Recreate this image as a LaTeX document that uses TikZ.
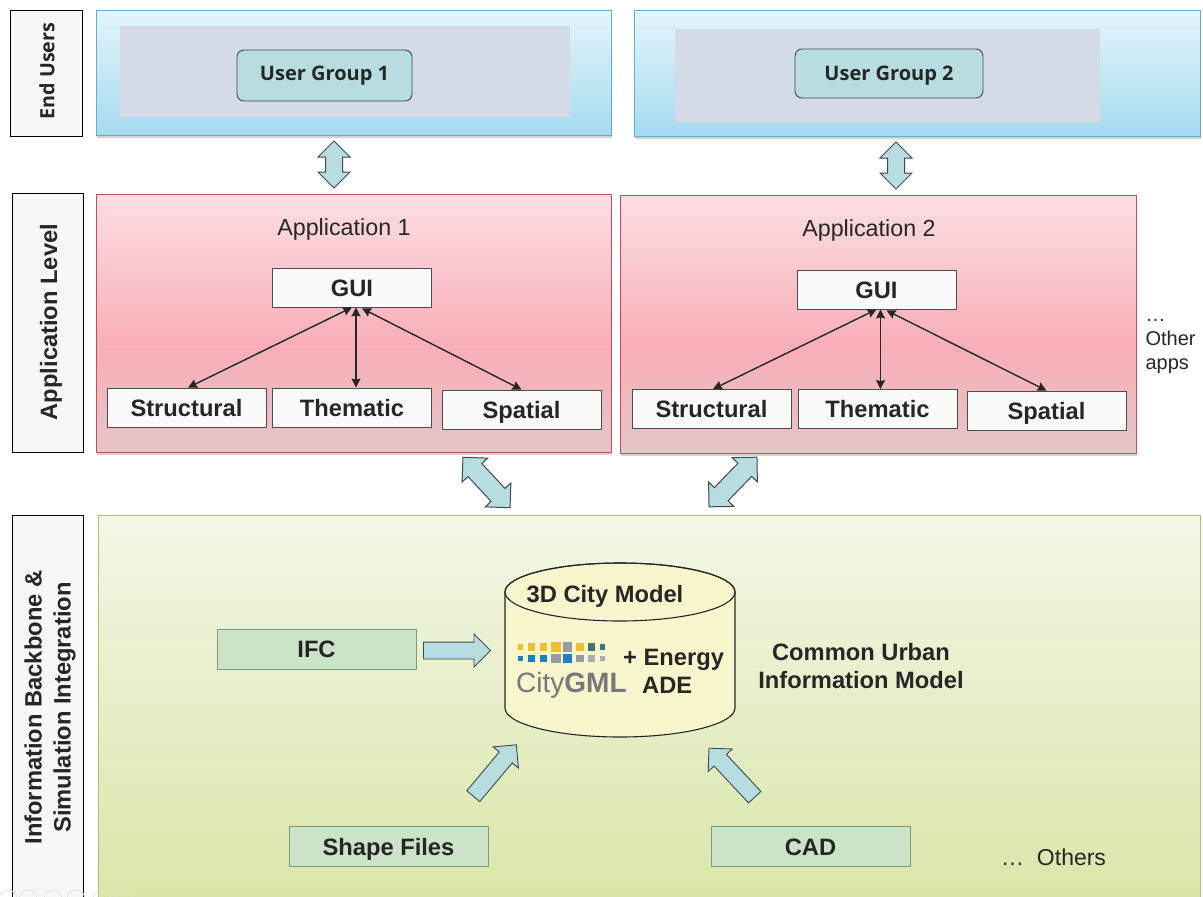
\documentclass[tikz,border=0pt]{standalone}
\usepackage{fontspec}
\usepackage{xcolor}
\setmainfont{Liberation Sans}
\newfontfamily\ugfont{Open Sans}
\usepackage{tikz}
\usetikzlibrary{shapes.arrows,shadows,arrows.meta}
\definecolor{arrowfill}{HTML}{B7DDE0}
\definecolor{arrowline}{HTML}{3F4A4E}
\definecolor{greyinner}{HTML}{D5DBE6}
\definecolor{bluetop}{HTML}{E4F5FB}
\definecolor{bluebot}{HTML}{A5DBEF}
\definecolor{blueline}{HTML}{62AEC6}
\definecolor{redline}{HTML}{C94A60}
\definecolor{greenline}{HTML}{A6C56F}
\definecolor{cityfill}{HTML}{F8F6CC}
\definecolor{srcfill}{HTML}{CBE3C6}
\definecolor{srcline}{HTML}{7F9A80}
\definecolor{cgyellow}{HTML}{EFBF2E}
\definecolor{cggrey}{HTML}{9A9AA2}
\definecolor{cgpale}{HTML}{ABABB0}
\definecolor{cgteal}{HTML}{3E7672}
\definecolor{cgblue}{HTML}{1B7FC1}
\definecolor{cgtext}{HTML}{77787B}
\definecolor{redbot}{HTML}{E7C6C8}
\definecolor{redlow}{HTML}{E9BFC3}
\definecolor{redmid}{HTML}{F8AEB7}
\definecolor{redtop}{HTML}{FBDEE3}
\definecolor{greenbot}{HTML}{D7E6A6}
\definecolor{greentop}{HTML}{F3F7E6}
\pgfdeclareverticalshading{redband}{100bp}{
	color(0bp)=(redbot);
	color(25bp)=(redbot);
	color(31bp)=(redlow);
	color(45bp)=(redmid);
	color(75bp)=(redtop);
	color(100bp)=(redtop)}
\pgfdeclareverticalshading{greenband}{100bp}{
	color(0bp)=(greenbot);
	color(25bp)=(greenbot);
	color(75bp)=(greentop);
	color(100bp)=(greentop)}

\begin{document}
\begin{tikzpicture}[x=1pt,y=-1pt,
	levelbox/.style={draw=black,fill=white!97!black,line width=.9pt,inner sep=0pt},
	levelname/.style={font=\bfseries\fontsize{23.7}{29}\selectfont,text=black!85,rotate=90,align=center},
	userpanel/.style={draw=blueline,top color=bluetop,bottom color=bluebot,line width=.9pt,inner sep=0pt,drop shadow={shadow xshift=1pt,shadow yshift=-3pt,opacity=.35}},
	greypanel/.style={fill=greyinner,inner sep=0pt},
	usergroup/.style={draw=arrowline,fill=arrowfill,rounded corners=7pt,line width=.9pt,inner sep=0pt,font=\ugfont\bfseries\fontsize{20}{24}\selectfont,text=black!85},
	apppanel/.style={draw=redline,shading=redband,line width=.9pt,inner sep=0pt,drop shadow={shadow xshift=1pt,shadow yshift=-3pt,opacity=.35}},
	appbox/.style={draw=black!70,fill=white!98!black,line width=.8pt,inner sep=0pt,minimum width=159pt,minimum height=39pt,text height=17pt,text depth=0pt,font=\bfseries\fontsize{23.7}{26}\selectfont,text=black!85},
	link/.style={{Stealth[length=9pt,width=9pt,inset=1pt]}-{Stealth[length=9pt,width=9pt,inset=1pt]},line width=1.4pt,black!85},
	blockdouble/.style={shape=double arrow,draw=arrowline,fill=arrowfill,line width=1pt,inner xsep=0pt,inner ysep=8pt,double arrow head extend=7.5pt,double arrow tip angle=90,minimum height=#1},
	blocksingle/.style={shape=single arrow,draw=arrowline,fill=arrowfill,line width=.9pt,inner xsep=0pt,inner ysep=8pt,single arrow head extend=8pt,single arrow tip angle=90,minimum height=#1,anchor=tail},
	srcbox/.style={draw=srcline,fill=srcfill,line width=.8pt,inner sep=0pt,minimum width=199pt,minimum height=40pt,text height=17pt,text depth=0pt,font=\bfseries\fontsize{23.7}{26}\selectfont,text=black!85},
	boldtext/.style={font=\bfseries\fontsize{23.7}{28}\selectfont,text=black!85,align=center},
	plaintext/.style={font=\fontsize{20}{24}\selectfont,text=black!85}]
	\clip (0,0) rectangle (1203,897);
	\fill[white] (0,0) rectangle (1203,897);

	% left column
	\node[levelbox,minimum width=72pt,minimum height=126pt] (endbox) at (46,73) {};
	\node[font=\ugfont\bfseries\fontsize{19.7}{22}\selectfont,rotate=90,text=black!85] (endname) at (47,71) {End Users};
	\node[levelbox,minimum width=71pt,minimum height=259pt] (applevel) at (47.5,322.5) {};
	\node[levelname] (appname) at (51,322) {Application Level};
	\node[levelbox,minimum width=71pt,minimum height=400pt] (infobox) at (47.5,715) {};
	\node[levelname] (infoname) at (50,707.5) {Information Backbone \&\\Simulation Integration};

	% end users
	\node[userpanel,minimum width=515pt,minimum height=125pt] (userone) at (353.5,72.5) {};
	\node[userpanel,minimum width=566pt,minimum height=126pt] (usertwo) at (917,73) {};
	\node[greypanel,minimum width=450pt,minimum height=91pt] (greyone) at (345,71.5) {};
	\node[greypanel,minimum width=425pt,minimum height=93pt] (greytwo) at (887.5,75.5) {};
	\node[usergroup,minimum width=175pt,minimum height=51pt] (groupone) at (324.5,75.5) {User Group 1};
	\node[usergroup,minimum width=188pt,minimum height=49pt,text height=14pt,text depth=0pt] (grouptwo) at (889,73.5) {User Group 2};

	\node[blockdouble=47pt,rotate=90] (userlinkone) at (334,164.5) {};
	\node[blockdouble=47pt,rotate=90] (userlinktwo) at (896,165.5) {};

	% application 1
	\node[apppanel,minimum width=515pt,minimum height=258pt] (appone) at (353.5,323) {};
	\node[font=\fontsize{23.3}{27}\selectfont,text=black!85] (appnameone) at (344,229.5) {Application 1};
	\node[appbox] (guione) at (352,287.5) {GUI};
	\node[appbox] (structone) at (186.5,407.5) {Structural};
	\node[appbox] (themeone) at (352,407.5) {Thematic};
	\node[appbox] (spatialone) at (521.5,409.5) {Spatial};
	\draw[link] (guione.south) -- ([xshift=1.5pt]structone.north);
	\draw[link] ([xshift=4pt]guione.south) -- ([xshift=4pt]themeone.north);
	\draw[link] ([xshift=10pt,yshift=-1pt]guione.south) -- (spatialone.north);

	% application 2
	\node[apppanel,minimum width=516pt,minimum height=258pt] (apptwo) at (878,324) {};
	\node[font=\fontsize{23.3}{27}\selectfont,text=black!85] (appnametwo) at (869,230.5) {Application 2};
	\node[appbox] (guitwo) at (876.5,289.5) {GUI};
	\node[appbox] (structtwo) at (711.5,409) {Structural};
	\node[appbox] (themetwo) at (877.5,409) {Thematic};
	\node[appbox] (spatialtwo) at (1046.5,410.5) {Spatial};
	\draw[link] (guitwo.south) -- ([xshift=1.5pt]structtwo.north);
	\draw[link] ([xshift=4pt]guitwo.south) -- ([xshift=3pt]themetwo.north);
	\draw[link] ([xshift=10pt,yshift=-1pt]guitwo.south) -- (spatialtwo.north);

	\node[plaintext,align=left,anchor=north west] (otherapps) at (1142,316) {\dots\\Other\\apps};

	\node[blockdouble=69pt,rotate=-47,inner ysep=9pt,double arrow head extend=8pt] (applinkone) at (486.5,482.5) {};
	\node[blockdouble=69pt,rotate=46,inner ysep=9pt,double arrow head extend=8pt] (applinktwo) at (733,482) {};

	% information backbone
	\node[draw=greenline,shading=greenband,line width=.9pt,inner sep=0pt,minimum width=1102pt,minimum height=400pt] (backbone) at (649,715) {};

	\draw[black!85,fill=cityfill,line width=1.1pt] (505,592) -- (505,708) arc[start angle=180,end angle=0,x radius=115,y radius=29] -- (735,592) arc[start angle=0,end angle=-180,x radius=115,y radius=29] -- cycle;
	\draw[black!85,line width=1.1pt] (620,592) ellipse [x radius=115,y radius=29];
	\node[boldtext] (cityname) at (605,596) {3D City Model};
	\foreach \px/\sz/\colr in {520.7/5.5/cgyellow,531.7/7.5/cgyellow,543.3/7.5/cgyellow,556/9.5/cgyellow,567.7/9.5/cggrey,580/7.5/cgyellow,591.3/7.5/cgteal,602.7/5.5/cgteal}
		\fill[\colr] (\px-\sz/2,647-\sz/2) rectangle (\px+\sz/2,647+\sz/2);
	\foreach \px/\sz/\colr in {520.7/5.5/cgblue,531.7/7.5/cgblue,543.3/7.5/cgblue,556/9.5/cggrey,567.7/9.5/cgblue,580/7.5/cggrey,591.3/7.5/cgpale,602.7/5.5/cgpale}
		\fill[\colr] (\px-\sz/2,658.7-\sz/2) rectangle (\px+\sz/2,658.7+\sz/2);
	\node[font=\fontsize{28}{30}\selectfont,text=cgtext,anchor=base west,inner sep=0pt] (citylogo) at (516,692) {City\textbf{GML}};
	\node[boldtext,anchor=base west,inner sep=0pt] (energy) at (623,665) {+ Energy};
	\node[boldtext,anchor=base west,inner sep=0pt] (ade) at (642,693) {ADE};
	\node[boldtext] (common) at (861,666) {Common Urban\\Information Model};

	\node[srcbox] (ifc) at (316.5,649) {IFC};
	\node[srcbox] (shape) at (388.5,846.5) {Shape Files};
	\node[srcbox] (cad) at (810.5,846.5) {CAD};
	\node[blocksingle=67pt] (ifclink) at (423,650.5) {};
	\node[blocksingle=67pt,rotate=50] (shapelink) at (473,796.5) {};
	\node[blocksingle=67pt,rotate=133] (cadlink) at (755,797.5) {};
	\node[plaintext,font=\fontsize{23}{26}\selectfont,anchor=base west,inner sep=0pt] (others) at (1001,865) {\dots\ \ Others};

	% player controls at the bottom edge
	\foreach \px in {8,28,53,76,102,124}
		\draw[black!12,line width=.8pt] (\px,899) circle (9);
\end{tikzpicture}
\end{document}
